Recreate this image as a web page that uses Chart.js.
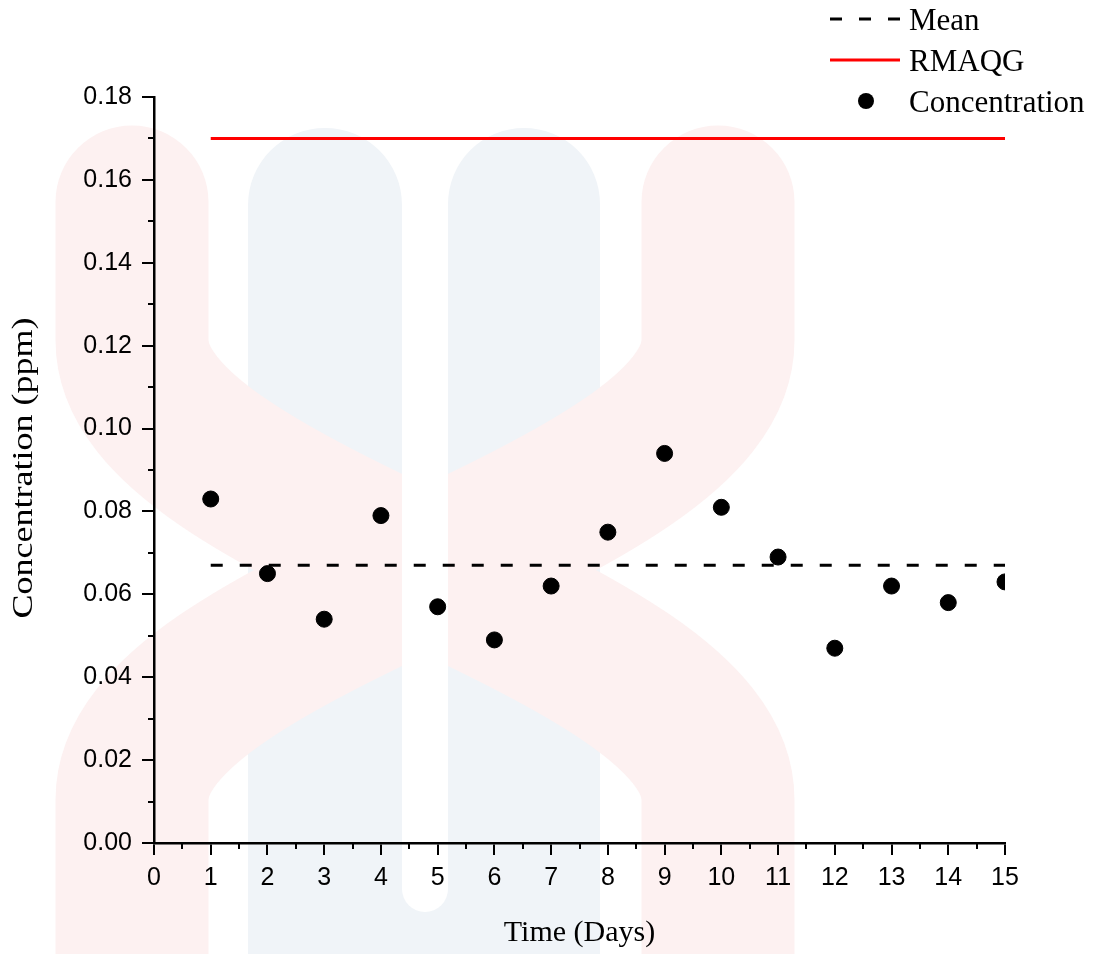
<!DOCTYPE html>
<html>
<head>
<meta charset="utf-8">
<title>Concentration (ppm)</title>
<script src="https://cdn.jsdelivr.net/npm/chart.js@4/dist/chart.umd.min.js"></script>
<style>
  html, body { margin: 0; padding: 0; background: #fff; }
  canvas { display: block; }
</style>
</head>
<body>
<canvas id="chart" width="1103" height="954"></canvas>
<script>
// data
const days = [1, 2, 3, 4, 5, 6, 7, 8, 9, 10, 11, 12, 13, 14, 15];
const concentration = [0.083, 0.065, 0.054, 0.079, 0.057, 0.049, 0.062, 0.075, 0.094, 0.081, 0.069, 0.047, 0.062, 0.058, 0.063];
const meanValue = 0.067;
const rmaqgValue = 0.17;
const lineSpan = [1, 15];
const xMinorTicks = [0.5, 1.5, 2.5, 3.5, 4.5, 5.5, 6.5, 7.5, 8.5, 9.5, 10.5, 11.5, 12.5, 13.5, 14.5];
const yMinorTicks = [0.01, 0.03, 0.05, 0.07, 0.09, 0.11, 0.13, 0.15, 0.17];
const legendOrder = ['Mean', 'RMAQG', 'Concentration'];
const yTitle = 'Concentration (ppm)';

Chart.defaults.font.family = 'Liberation Sans, Arial, sans-serif';
Chart.defaults.color = '#000';

const serif = 'Liberation Serif, Times New Roman, serif';

// faint logo behind the plot
const watermark = {
  id: 'watermark',
  beforeDraw(chart) {
    const ctx = chart.ctx;
    ctx.save();
    ctx.fillStyle = '#fff';
    ctx.fillRect(0, 0, chart.width, chart.height);

    ctx.fillStyle = '#f0f4f8';
    ctx.beginPath();
    ctx.roundRect(248, 128, 154, 900, 77);
    ctx.roundRect(448, 128, 152, 900, 76);
    ctx.fill();
    ctx.fillRect(300, 860, 250, 100);

    ctx.strokeStyle = '#fdf1f1';
    ctx.lineWidth = 153;
    ctx.lineCap = 'round';
    ctx.beginPath();
    ctx.moveTo(132, 202);
    ctx.lineTo(132, 340);
    ctx.bezierCurveTo(132, 520, 718, 620, 718, 800);
    ctx.lineTo(718, 1100);
    ctx.moveTo(718, 202);
    ctx.lineTo(718, 340);
    ctx.bezierCurveTo(718, 520, 132, 620, 132, 800);
    ctx.lineTo(132, 1100);
    ctx.stroke();

    ctx.fillStyle = '#fff';
    ctx.beginPath();
    ctx.roundRect(402, 60, 46, 852, 23);
    ctx.fill();
    ctx.restore();
  }
};

// minor ticks, y title and legend
const extras = {
  id: 'extras',
  afterDraw(chart) {
    const ctx = chart.ctx;
    const xs = chart.scales.x, ys = chart.scales.y;
    const area = chart.chartArea;
    ctx.save();
    ctx.strokeStyle = '#000';
    ctx.lineWidth = 2;
    ctx.beginPath();
    xMinorTicks.forEach(v => {
      const px = Math.round(xs.getPixelForValue(v));
      ctx.moveTo(px, area.bottom);
      ctx.lineTo(px, area.bottom + 6);
    });
    yMinorTicks.forEach(v => {
      const py = Math.round(ys.getPixelForValue(v));
      ctx.moveTo(area.left, py);
      ctx.lineTo(area.left - 6, py);
    });
    ctx.stroke();

    // y title is a bit stretched along its length in the original
    ctx.save();
    ctx.translate(32, (area.top + area.bottom) / 2 - 2);
    ctx.rotate(-Math.PI / 2);
    ctx.scale(1.2, 1);
    ctx.font = '30px ' + serif;
    ctx.textAlign = 'center';
    ctx.textBaseline = 'alphabetic';
    ctx.fillStyle = '#000';
    ctx.fillText(yTitle, 0, 0);
    ctx.restore();

    // legend, top right
    ctx.font = '31px ' + serif;
    ctx.textBaseline = 'alphabetic';
    ctx.fillStyle = '#000';
    legendOrder.forEach((name, i) => {
      const ds = chart.data.datasets.find(d => d.label === name);
      const cy = 19 + i * 41;
      if (ds.showLine) {
        ctx.strokeStyle = ds.borderColor;
        ctx.lineWidth = ds.borderWidth;
        ctx.setLineDash(ds.borderDash || []);
        ctx.beginPath();
        ctx.moveTo(830, cy);
        ctx.lineTo(900, cy);
        ctx.stroke();
        ctx.setLineDash([]);
      } else {
        ctx.fillStyle = ds.backgroundColor;
        ctx.beginPath();
        ctx.arc(866, cy, ds.pointRadius, 0, Math.PI * 2);
        ctx.fill();
      }
      ctx.fillStyle = '#000';
      ctx.fillText(name, 909, cy + 11);
    });
    ctx.restore();
  }
};

new Chart(document.getElementById('chart'), {
  type: 'scatter',
  data: {
    datasets: [
      {
        label: 'Concentration',
        data: days.map((d, i) => ({ x: d, y: concentration[i] })),
        backgroundColor: '#000',
        borderColor: '#000',
        pointRadius: 8,
        pointHoverRadius: 8,
        clip: 0
      },
      {
        label: 'Mean',
        data: lineSpan.map(d => ({ x: d, y: meanValue })),
        showLine: true,
        borderColor: '#000',
        borderWidth: 3,
        borderDash: [12, 17],
        pointRadius: 0
      },
      {
        label: 'RMAQG',
        data: lineSpan.map(d => ({ x: d, y: rmaqgValue })),
        showLine: true,
        borderColor: '#ff0000',
        borderWidth: 3,
        pointRadius: 0
      }
    ]
  },
  options: {
    responsive: false,
    animation: false,
    devicePixelRatio: 1,
    layout: { padding: { top: 97, right: 98, left: 0, bottom: 0 } },
    plugins: {
      legend: { display: false },
      tooltip: { enabled: false }
    },
    scales: {
      x: {
        type: 'linear',
        min: 0,
        max: 15,
        ticks: { stepSize: 1, font: { size: 25 }, padding: 8, maxRotation: 0 },
        grid: { drawOnChartArea: false, tickLength: 12, color: '#000', lineWidth: 2 },
        border: { color: '#000', width: 2.5 },
        title: { display: true, text: 'Time (Days)', font: { family: serif, size: 30 }, padding: { top: 0, bottom: 3 } },
        afterFit(scale) { scale.height = 111; }
      },
      y: {
        min: 0,
        max: 0.18,
        ticks: { stepSize: 0.02, font: { size: 25 }, padding: 10, callback: v => v.toFixed(2) },
        grid: { drawOnChartArea: false, tickLength: 12, color: '#000', lineWidth: 2 },
        border: { color: '#000', width: 2.5 },
        afterFit(scale) { scale.width = 154; }
      }
    }
  },
  plugins: [watermark, extras]
});
</script>
</body>
</html>
